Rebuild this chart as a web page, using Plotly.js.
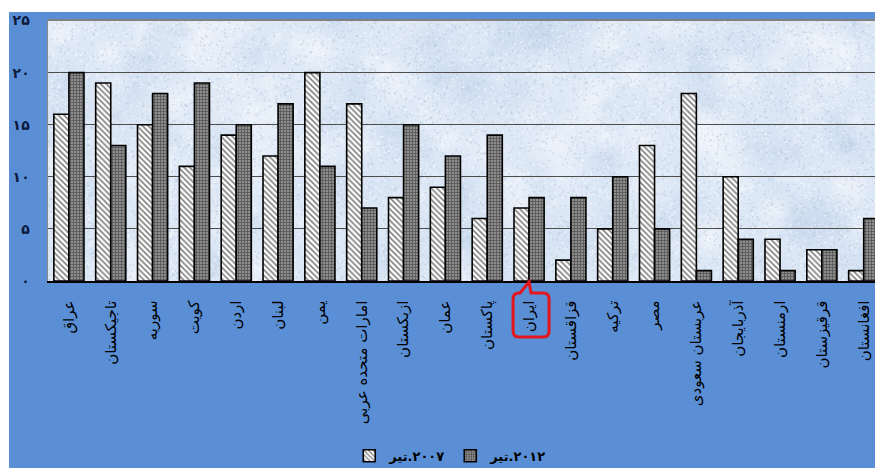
<!DOCTYPE html>
<html>
<head>
<meta charset="utf-8">
<script src="https://cdn.plot.ly/plotly-3.0.1.min.js"></script>
<style>
  html, body { margin: 0; padding: 0; background: #ffffff; width: 875px; height: 468px; overflow: hidden; }
  #chart { position: absolute; left: 9px; top: 12px; width: 866px; height: 456px; }
</style>
</head>
<body>
<div id="chart"></div>
<script>
// ---- data ----
var categories = ["عراق", "تاجیکستان", "سوریه", "کویت", "اردن", "لبنان", "یمن",
  "امارات متحده عربی", "ازبکستان", "عمان", "پاکستان", "ایران", "قزاقستان", "ترکیه",
  "مصر", "عربستان سعودی", "آذربایجان", "ارمنستان", "قرقیزستان", "افغانستان"];
var values2007 = [16, 19, 15, 11, 14, 12, 20, 17, 8, 9, 6, 7, 2, 5, 13, 18, 10, 4, 3, 1];
var values2012 = [20, 13, 18, 19, 15, 17, 11, 7, 15, 12, 14, 8, 8, 10, 5, 1, 4, 1, 3, 6];
var seriesNames = ["\u2068تیر\u2069\u200E.۲۰۰۷", "\u2068تیر\u2069\u200E.۲۰۱۲"];
var yTickVals = [0, 5, 10, 15, 20, 25];
var yTickText = ["۰", "۵", "۱۰", "۱۵", "۲۰", "۲۵"];
var highlighted = "ایران";

// ---- marble-like plot background texture ----
function makeTexture(w, h) {
  var c = document.createElement('canvas');
  c.width = w; c.height = h;
  var g = c.getContext('2d');
  g.fillStyle = '#dce7f5';
  g.fillRect(0, 0, w, h);
  var s = 12345;
  function rnd() { s = (s * 1103515245 + 12345) % 2147483648; return s / 2147483648; }
  for (var i = 0; i < 320; i++) {
    var x = rnd() * w, y = rnd() * h, r = 8 + rnd() * 40;
    var light = rnd() > 0.45;
    var grad = g.createRadialGradient(x, y, 0, x, y, r);
    grad.addColorStop(0, light ? 'rgba(252,253,255,0.45)' : 'rgba(180,200,228,0.3)');
    grad.addColorStop(1, 'rgba(220,232,246,0)');
    g.fillStyle = grad;
    g.beginPath(); g.arc(x, y, r, 0, Math.PI * 2); g.fill();
  }
  for (var k = 0; k < 12000; k++) {
    var px = rnd() * w, py = rnd() * h;
    g.fillStyle = rnd() > 0.5 ? 'rgba(255,255,255,0.55)' : 'rgba(165,185,212,0.4)';
    g.fillRect(px, py, 1.5, 1.5);
  }
  return c.toDataURL('image/png');
}

var trace2007 = {
  type: 'bar', x: categories, y: values2007, name: seriesNames[0],
  marker: {
    color: '#ffffff',
    line: { color: '#000000', width: 1.6 },
    pattern: { shape: '\\', fgcolor: '#000000', bgcolor: '#ffffff', size: 4, solidity: 0.4, fillmode: 'overlay' }
  },
  hoverinfo: 'x+y'
};
var trace2012 = {
  type: 'bar', x: categories, y: values2012, name: seriesNames[1],
  marker: {
    color: '#7a7a7a',
    line: { color: '#000000', width: 1.6 },
    pattern: { shape: '+', fgcolor: '#1a1a1a', bgcolor: '#8e8e8e', size: 3, solidity: 0.45, fillmode: 'overlay' }
  },
  hoverinfo: 'x+y'
};

var layout = {
  width: 866, height: 456,
  margin: { l: 39, r: 0, t: 8, b: 187, autoexpand: false },
  paper_bgcolor: '#5a8fd6',
  plot_bgcolor: 'rgba(0,0,0,0)',
  barmode: 'group',
  bargap: 0.28,
  bargroupgap: 0,
  showlegend: true,
  legend: {
    orientation: 'h', x: 0.487, xanchor: 'center', y: -0.612, yanchor: 'top',
    font: { family: 'DejaVu Sans', size: 13, color: '#000000', weight: 'bold' },
    bgcolor: 'rgba(0,0,0,0)', itemwidth: 30, traceorder: 'normal'
  },
  xaxis: {
    type: 'category',
    range: [-0.5, 19.27],
    tickangle: -90,
    tickfont: { family: 'DejaVu Sans', size: 15, color: '#000000' },
    ticks: '', ticklabelstandoff: 12,
    showline: true, linecolor: '#000000', linewidth: 1.5,
    showgrid: false, fixedrange: true, automargin: false
  },
  yaxis: {
    range: [0, 25.05],
    tickvals: yTickVals, ticktext: yTickText,
    tickfont: { family: 'DejaVu Sans', size: 14, color: '#0d1b3e', weight: 'bold' },
    ticks: '', ticklabelstandoff: 14,
    showgrid: true, gridcolor: '#4d4d4d', gridwidth: 1,
    showline: true, linecolor: '#8a8a8a', linewidth: 1.5,
    zeroline: false, fixedrange: true, automargin: false
  },
  images: [{
    source: makeTexture(827, 261), xref: 'paper', yref: 'paper',
    x: 0, y: 1, sizex: 1, sizey: 1, sizing: 'stretch', xanchor: 'left', yanchor: 'top', layer: 'below'
  }],
  shapes: [
    { type: 'line', xref: 'paper', yref: 'paper', x0: 0, x1: 1, y0: 1, y1: 1, line: { color: '#808080', width: 2 } },
    {
      type: 'path', xref: 'x', yref: 'paper', xsizemode: 'pixel', ysizemode: 'pixel',
      xanchor: highlighted, yanchor: 0,
      path: 'M -9,-12 L 0,-1 L 2,-12 L 14,-12 Q 20,-12 20,-18 L 20,-50 Q 20,-56 14,-56 L -10,-56 Q -16,-56 -16,-50 L -16,-18 Q -16,-12 -10,-12 Z',
      line: { color: '#e3161e', width: 3 }, fillcolor: 'rgba(0,0,0,0)', layer: 'above'
    }
  ]
};

Plotly.newPlot('chart', [trace2007, trace2012], layout, { staticPlot: true, displayModeBar: false });
</script>
</body>
</html>
